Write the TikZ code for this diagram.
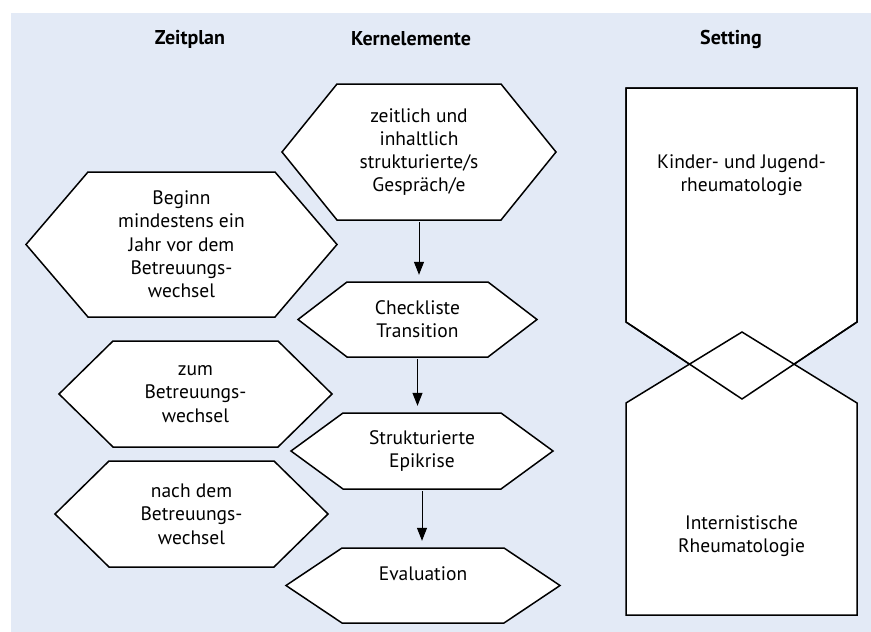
\documentclass[tikz,border=0pt]{standalone}
\usepackage{fontspec}
\setmainfont{PT Sans}
\usetikzlibrary{arrows.meta}
\definecolor{panelblue}{RGB}{227,234,246}

\begin{document}
\begin{tikzpicture}[x=1pt,y=-1pt,
  hexline/.style={draw=black,fill=white,line width=1.5pt,line join=miter},
  hextext/.style={align=center,inner sep=0pt,font=\fontsize{19.5}{23.3}\selectfont},
  head/.style={font=\fontsize{20}{24}\selectfont\bfseries},
  flow/.style={line width=1pt,-{Triangle[length=13pt,width=10pt]},shorten <=2pt,shorten >=7pt}]
  \useasboundingbox (0,0) rectangle (871,632);
  \fill[white] (0,0) rectangle (871,632);
  \fill[panelblue] (11,13) rectangle (871,632);
  % column heads
  \node[head] (hzeit) at (190,39) {Zeitplan};
  \node[head] (hkern) at (411,39) {Kernelemente};
  \node[head] (hset) at (731,39) {Setting};
  % hexagons: name/x/y/half width/half height/inset/text
  \foreach \n/\cx/\cy/\w/\h/\i/\t in {
    gespr/419/152/137/68/55/{zeitlich und\\inhaltlich\\strukturierte/s\\Gespräch/e},
    beginn/181.5/244.5/155.5/72.5/62/{Beginn\\mindestens ein\\Jahr vor dem\\Betreuungs-\\wechsel},
    check/417.5/319.5/119.5/37.5/49/{Checkliste\\Transition},
    zum/195.5/394/136.5/53/54/{zum\\Betreuungs-\\wechsel},
    strukt/422/451/131/38/52/{Strukturierte\\Epikrise},
    nach/191.5/514/136.5/53/54/{nach dem\\Betreuungs-\\wechsel},
    eval/423/585.5/137/37.5/56/{Evaluation\\\mbox{}}}{
    \draw[hexline] ({\cx-\w},\cy) -- ({\cx-\w+\i},{\cy-\h}) -- ({\cx+\w-\i},{\cy-\h})
      -- ({\cx+\w},\cy) -- ({\cx+\w-\i},{\cy+\h}) -- ({\cx-\w+\i},{\cy+\h}) -- cycle;
    \node[hextext,minimum height=2*\h] (\n) at (\cx,\cy) {\t};
  }
  % setting
  \draw[hexline] (626,88) -- (857,88) -- (857,322) -- (742,399) -- (626,322) -- cycle;
  \draw[hexline] (742,332) -- (857,403) -- (857,615) -- (626,615) -- (626,403) -- cycle;
  \draw[hexline,fill=none] (626,88) -- (857,88) -- (857,322) -- (742,399) -- (626,322) -- cycle;
  \node[hextext] (kinder) at (741.5,175) {Kinder- und Jugend-\\rheumatologie};
  \node[hextext] (intern) at (741.5,536) {Internistische\\Rheumatologie};
  \draw[flow] (gespr.south) -- (gespr.south |- check.north);
  \draw[flow] (check.south) -- (check.south |- strukt.north);
  \draw[flow] (strukt.south) -- (strukt.south |- eval.north);
\end{tikzpicture}
\end{document}
